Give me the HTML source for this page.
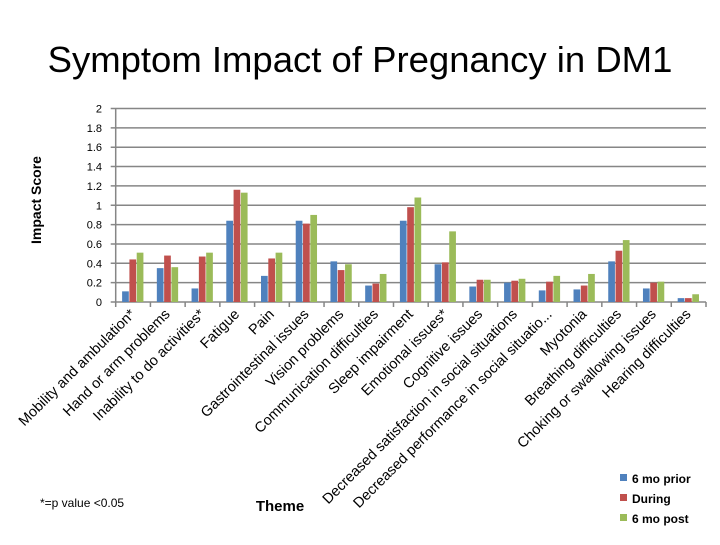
<!DOCTYPE html>
<html><head><meta charset="utf-8"><style>
body{margin:0;background:#fff;}
svg text{font-family:"Liberation Sans",sans-serif;}
</style></head><body>
<svg id="chart" width="720" height="540" xmlns="http://www.w3.org/2000/svg">
<text x="360" y="72" text-anchor="middle" font-size="36.5" fill="#000">Symptom Impact of Pregnancy in DM1</text>
<text transform="translate(41,200) rotate(-90)" text-anchor="middle" font-size="14" font-weight="bold">Impact Score</text>
<text x="280" y="511" text-anchor="middle" font-size="15" font-weight="bold">Theme</text>
<text x="40" y="507" font-size="12">*=p value &lt;0.05</text>
<g id="grid"></g><g id="bars"></g><g id="labels"></g>
<g>
<rect x="620" y="474" width="7" height="7" fill="#4f81bd"/>
<text x="632" y="483" font-size="12" font-weight="bold">6 mo prior</text>
<rect x="620" y="494" width="7" height="7" fill="#c0504d"/>
<text x="632" y="503" font-size="12" font-weight="bold">During</text>
<rect x="620" y="514" width="7" height="7" fill="#9bbb59"/>
<text x="632" y="523" font-size="12" font-weight="bold">6 mo post</text>
</g>
</svg>
<script>
const categories=["Mobility and ambulation*","Hand or arm problems","Inability to do activities*","Fatigue","Pain","Gastrointestinal issues","Vision problems","Communication difficulties","Sleep impairment","Emotional issues*","Cognitive issues","Decreased satisfaction in social situations","Decreased performance in social situatio...","Myotonia","Breathing difficulties","Choking or swallowing issues","Hearing difficulties"];
const prior=[0.11,0.35,0.14,0.84,0.27,0.84,0.42,0.17,0.84,0.39,0.16,0.20,0.12,0.13,0.42,0.14,0.04];
const during=[0.44,0.48,0.47,1.16,0.45,0.81,0.33,0.19,0.98,0.41,0.23,0.22,0.21,0.17,0.53,0.20,0.04];
const post=[0.51,0.36,0.51,1.13,0.51,0.90,0.39,0.29,1.08,0.73,0.23,0.24,0.27,0.29,0.64,0.21,0.08];
const yTicks=["0","0.2","0.4","0.6","0.8","1","1.2","1.4","1.6","1.8","2"];
const NS="http://www.w3.org/2000/svg";
const X0=115.7,X1=706,Y0=302,Y1=108.5,YMAX=2;
const cw=(X1-X0)/categories.length;
function y(v){return Y0-(v/YMAX)*(Y0-Y1);}
function mk(t,a,p){const e=document.createElementNS(NS,t);for(const k in a)e.setAttribute(k,a[k]);p.appendChild(e);return e;}
const grid=document.getElementById('grid'),bars=document.getElementById('bars'),labels=document.getElementById('labels');
yTicks.forEach((t,i)=>{const v=parseFloat(t);
 const l=mk('line',{x1:X0-5,x2:X1,y1:y(v),y2:y(v),stroke:'#868686','stroke-width':1.5},grid);
 
 
 const tx=mk('text',{x:102,y:y(v)+4,'text-anchor':'end','font-size':11},grid);tx.textContent=t;
 
 
});
const ax=mk('line',{x1:X0,x2:X0,y1:Y1,y2:Y0,stroke:'#868686','stroke-width':1.5},grid);


for(let i=0;i<=categories.length;i++){const t=mk('line',{x1:X0+i*cw,x2:X0+i*cw,y1:Y0,y2:Y0+5,stroke:'#868686','stroke-width':1.5},grid);
 
 }
const series=[[prior,'#4f81bd','prior'],[during,'#c0504d','during'],[post,'#9bbb59','post']];
const bw=7.3;
categories.forEach((c,i)=>{
 const cx=X0+i*cw+cw/2;
 series.forEach((s,j)=>{const v=s[0][i];
  const r=mk('rect',{x:cx-1.5*bw+j*bw,y:y(v),width:bw-0.6,height:Y0-y(v),fill:s[1]},bars);
  
  
 });
 const t=mk('text',{transform:`translate(${cx+3},${315}) rotate(-45)`,'text-anchor':'end','font-size':14.5},labels);
 t.textContent=c;
 
 
});
</script>
</body></html>
